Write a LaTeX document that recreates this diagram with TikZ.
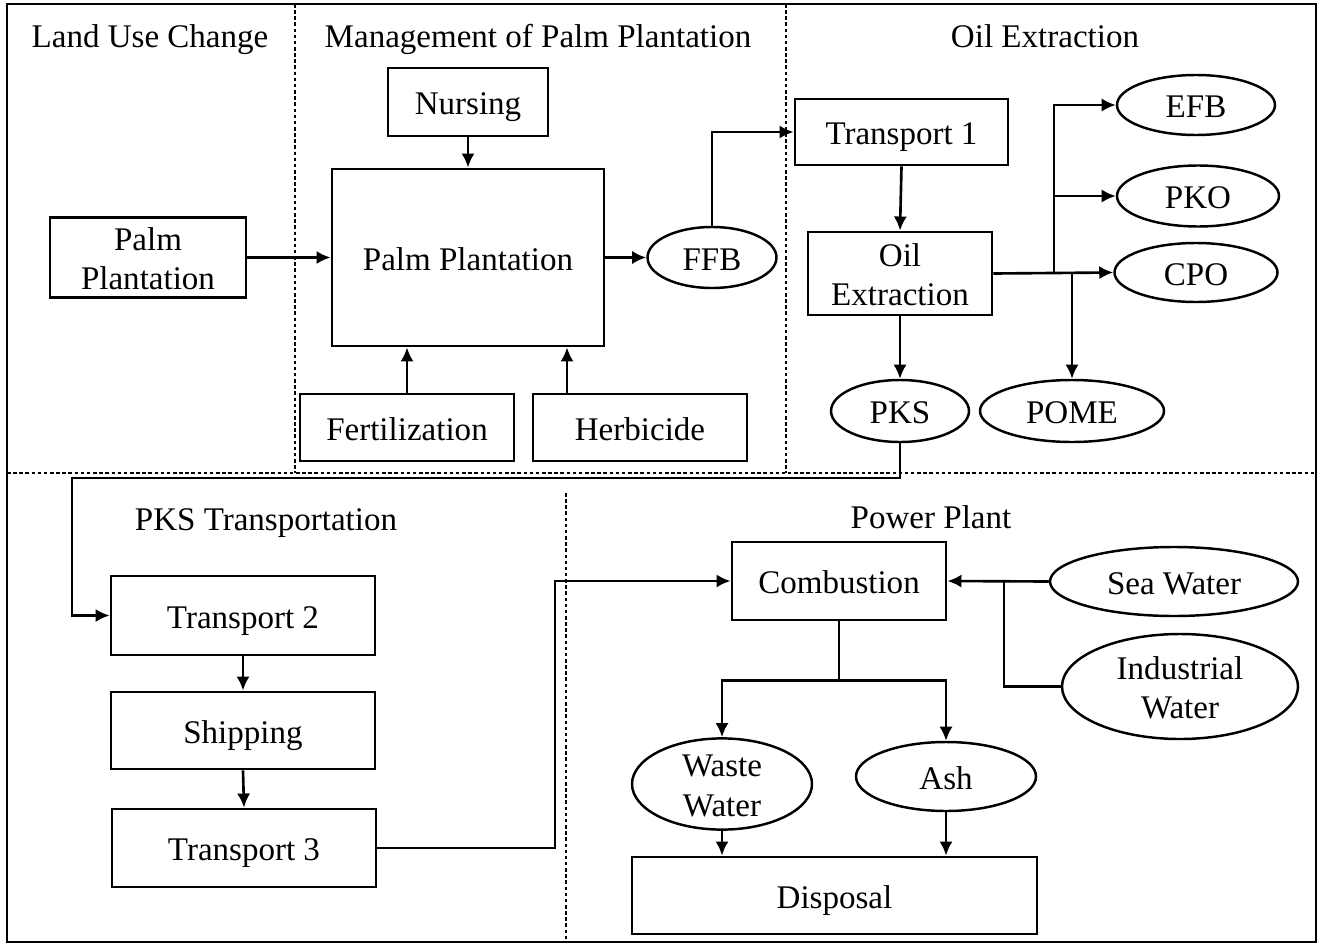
\documentclass[tikz,border=0pt]{standalone}
\usepackage{fontspec}
\setmainfont{Liberation Serif}
\usetikzlibrary{shapes.geometric, arrows.meta, positioning, calc}

\tikzset{
    box/.style={rectangle,draw,line width=1.6pt,align=center,inner sep=0pt,text height=14.3pt,text depth=0pt},
    oval/.style={ellipse,draw,line width=1.4pt,align=center,inner sep=0pt,text height=14.3pt,text depth=0pt},
    twoline/.style={text height=36.7pt,text depth=0pt},
    title/.style={inner sep=0pt,text height=14.3pt,text depth=0pt},
    arr/.style={line width=1.5pt,-{Latex[length=8pt,width=7.5pt]}},
    link/.style={line width=1.5pt},
    zone/.style={line width=0.6pt,dash pattern=on 2pt off 1.5pt}
}

\begin{document}
\begin{tikzpicture}[x=0.02cm,y=-0.02cm,font=\fontsize{18.8}{22.5}\selectfont]
\useasboundingbox (0,0) rectangle (1321,946);
% Frame and zones
\draw[line width=1.6pt] (7,4) rectangle (1316,942);
\draw[zone] (7,473) -- (1316,473);
\draw[zone] (295,4) -- (295,473);
\draw[zone] (786,4) -- (786,473);
\draw[zone] (566,493) -- (566,942);
% Titles
\node[title] (t1) at (150,35) {Land Use Change};
\node[title] (t2) at (538,35) {Management of Palm Plantation};
\node[title] (t3) at (1045,35) {Oil Extraction};
\node[title] (t4) at (266,517.5) {PKS Transportation};
\node[title] (t5) at (931,515.5) {Power Plant};
% Land use and plantation
\node[box,twoline,minimum width=196*0.02cm,minimum height=80*0.02cm] (lpalm) at (148,257.5) {Palm\\Plantation};
\node[box,minimum width=272*0.02cm,minimum height=177*0.02cm] (palm) at (468,257.5) {Palm Plantation};
\node[box,minimum width=160*0.02cm,minimum height=68*0.02cm] (nurs) at (468,102) {Nursing};
\node[box,minimum width=214*0.02cm,minimum height=67*0.02cm] (fert) at (407,427.5) {Fertilization};
\node[box,minimum width=214*0.02cm,minimum height=67*0.02cm] (herb) at (640,427.5) {Herbicide};
\node[oval,minimum width=129*0.02cm,minimum height=61*0.02cm] (ffb) at (712,257.5) {FFB};
% Oil extraction
\node[box,minimum width=213*0.02cm,minimum height=66*0.02cm] (tr1) at (901.5,132) {Transport 1};
\node[box,twoline,minimum width=184*0.02cm,minimum height=83*0.02cm] (oil) at (900,273.5) {Oil\\Extraction};
\node[oval,minimum width=158*0.02cm,minimum height=60*0.02cm] (efb) at (1196,105) {EFB};
\node[oval,minimum width=162*0.02cm,minimum height=61*0.02cm] (pko) at (1198,196) {PKO};
\node[oval,minimum width=163*0.02cm,minimum height=59*0.02cm] (cpo) at (1196,272.5) {CPO};
\node[oval,minimum width=138*0.02cm,minimum height=62*0.02cm] (pks) at (900,411) {PKS};
\node[oval,minimum width=184*0.02cm,minimum height=62*0.02cm] (pome) at (1072,411) {POME};
% PKS transportation
\node[box,minimum width=264*0.02cm,minimum height=79*0.02cm] (tr2) at (243,615.5) {Transport 2};
\node[box,minimum width=264*0.02cm,minimum height=77*0.02cm] (ship) at (243,730.5) {Shipping};
\node[box,minimum width=264*0.02cm,minimum height=78*0.02cm] (tr3) at (244,848) {Transport 3};
% Power plant
\node[box,minimum width=214*0.02cm,minimum height=78*0.02cm] (comb) at (839,581) {Combustion};
\node[oval,minimum width=248*0.02cm,minimum height=69*0.02cm] (sea) at (1174,581.5) {Sea Water};
\node[oval,twoline,minimum width=236*0.02cm,minimum height=105*0.02cm] (ind) at (1180,686.5) {Industrial\\Water};
\node[oval,twoline,minimum width=180*0.02cm,minimum height=90*0.02cm] (ww) at (722,784) {Waste\\Water};
\node[oval,minimum width=180*0.02cm,minimum height=69*0.02cm] (ash) at (946,776.5) {Ash};
\node[box,minimum width=405*0.02cm,minimum height=77*0.02cm] (disp) at (834.5,895.5) {Disposal};
% Connections
\draw[arr] (lpalm.east) -- (palm.west);
\draw[arr] (nurs.south) -- (palm.north);
\draw[arr] (fert.north) -- (fert.north |- palm.south);
\draw[arr] (herb.north -| 567,0) -- (palm.south -| 567,0);
\draw[arr] (palm.east) -- (ffb.west);
\draw[arr] (ffb.north) |- (tr1.west);
\draw[arr] (tr1.south) -- (oil.north);
\draw[arr] (oil.east) -- (cpo.west);
\coordinate (split) at (1054,273.5);
\draw[arr] (split) |- (efb.west);
\draw[arr] (split) |- (pko.west);
\draw[arr] (pome.north |- oil.east) -- (pome.north);
\draw[arr] (oil.south) -- (pks.north);
\draw[arr] (pks.south) -- (pks.south |- 0,478) -- (72,478) |- (tr2.west);
\draw[arr] (tr2.south) -- (ship.north);
\draw[arr] (ship.south) -- (tr3.north);
\draw[arr] (tr3.east) -- (555,848) |- (comb.west);
\draw[arr] (sea.west) -- (comb.east);
\draw[link] (ind.west) -| (1004,581.5);
\draw[link] (comb.south) -- ++(0,59) coordinate (fork);
\draw[arr] (fork) -| (ww.north);
\draw[arr] (fork) -| (ash.north);
\draw[arr] (ww.south) -- (ww.south |- disp.north);
\draw[arr] (ash.south) -- (ash.south |- disp.north);
\end{tikzpicture}
\end{document}
